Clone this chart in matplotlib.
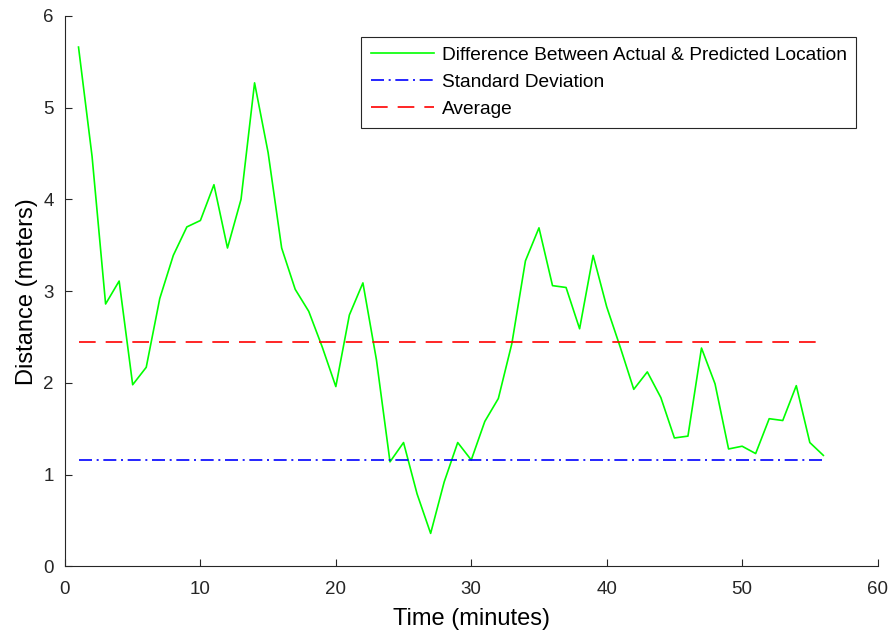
import matplotlib
matplotlib.use("Agg")
import matplotlib.pyplot as plt

plt.rcParams['font.family'] = ['Liberation Sans', 'DejaVu Sans']

minutes = list(range(1, 57))
difference = [5.66, 4.47, 2.86, 3.11, 1.98, 2.17, 2.92, 3.39, 3.70, 3.77,
              4.16, 3.47, 4.00, 5.27, 4.51, 3.47, 3.02, 2.78, 2.39, 1.96,
              2.74, 3.09, 2.25, 1.14, 1.35, 0.79, 0.36, 0.92, 1.35, 1.16,
              1.58, 1.83, 2.43, 3.33, 3.69, 3.06, 3.04, 2.59, 3.39, 2.83,
              2.39, 1.93, 2.12, 1.84, 1.40, 1.42, 2.38, 1.99, 1.28, 1.31,
              1.23, 1.61, 1.59, 1.97, 1.35, 1.21]
std_dev = 1.155
average = 2.45

fig = plt.figure(figsize=(8.9, 6.35), dpi=100)
ax = fig.add_axes([0.073, 0.108, 0.913, 0.867])

ax.plot(minutes, difference, color='#00ff00', lw=1.2,
        label='Difference Between Actual & Predicted Location')
ax.plot([minutes[0], minutes[-1]], [std_dev, std_dev], color='#0000ff', lw=1.2,
        linestyle=(0, (7.8, 2.8, 1.2, 2.8)), label='Standard Deviation')
ax.plot([minutes[0], minutes[-1]], [average, average], color='#ff0000', lw=1.2,
        linestyle=(0, (10, 6)), label='Average')

ax.set_xlim(0, 60)
ax.set_ylim(0, 6)
ax.set_xticks(range(0, 61, 10))
ax.set_yticks(range(0, 7))
ax.spines['top'].set_visible(False)
ax.spines['right'].set_visible(False)
for s in ('left', 'bottom'):
    ax.spines[s].set_color('#262626')
    ax.spines[s].set_linewidth(0.8)
ax.tick_params(direction='in', length=5, colors='#262626', labelsize=13.5,
               labelcolor='#262626')
ax.tick_params(axis='x', pad=10.5)
ax.tick_params(axis='y', pad=8)

ax.set_xlabel('Time (minutes)', fontsize=17, labelpad=7)
ax.set_ylabel('Distance (meters)', fontsize=17, labelpad=4)

leg = ax.legend(loc='upper right', borderaxespad=1.1, fontsize=13.8,
                fancybox=False, framealpha=1, edgecolor='#262626',
                handlelength=3.3, handletextpad=0.4, borderpad=0.5,
                labelspacing=0.5)
leg.get_frame().set_linewidth(0.8)

fig.savefig('out.png')
